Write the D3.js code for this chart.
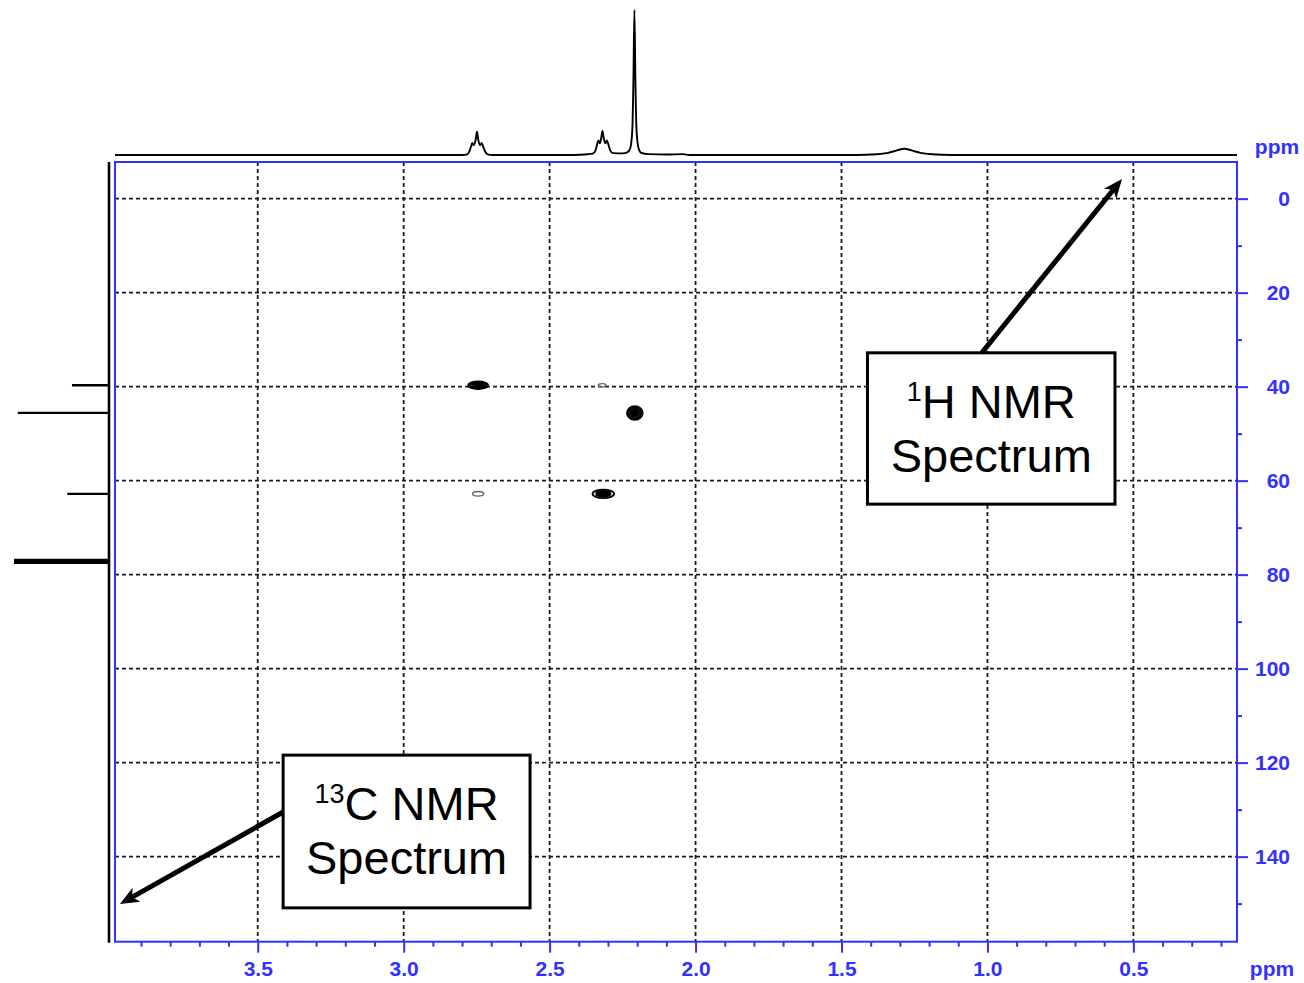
<!DOCTYPE html>
<html>
<head>
<meta charset="utf-8">
<script src="https://cdn.jsdelivr.net/npm/d3@7"></script>
<style>
  body { margin: 0; background: #fff; }
  svg { display: block; font-family: "Liberation Sans", Arial, Helvetica, sans-serif; }
</style>
</head>
<body>
<div id="chart"></div>
<script>
// 1H axis (ppm, reversed) and 13C axis (ppm)
const hDomain = [3.989, 0.145];
const cDomain = [-7.8, 158.1];
const hMajorTicks = [3.5, 3.0, 2.5, 2.0, 1.5, 1.0, 0.5];
const hMinorTicks = [3.9, 3.8, 3.7, 3.6, 3.4, 3.3, 3.2, 3.1, 2.9, 2.8, 2.7, 2.6, 2.4, 2.3, 2.2, 2.1,
                     1.9, 1.8, 1.7, 1.6, 1.4, 1.3, 1.2, 1.1, 0.9, 0.8, 0.7, 0.6, 0.4, 0.3, 0.2];
const cMajorTicks = [0, 20, 40, 60, 80, 100, 120, 140];
const cMinorTicks = [10, 30, 50, 70, 90, 110, 130, 150];

// 1H trace: [ppm, relative intensity]
const hTrace = [
  [3.989, 0], [2.800, 0], [2.785, 0.3], [2.776, 2], [2.769, 6], [2.765, 8.3], [2.760, 6.8],
  [2.753, 11], [2.749, 16], [2.745, 11], [2.738, 6.8], [2.733, 8.3], [2.728, 6], [2.720, 2],
  [2.710, 0.3], [2.695, 0], [2.420, 0], [2.370, 0.5], [2.352, 1], [2.343, 3], [2.337, 7.5],
  [2.333, 10], [2.328, 8], [2.323, 12], [2.319, 16.6], [2.315, 12], [2.309, 8], [2.304, 10],
  [2.299, 7.5], [2.292, 3], [2.283, 1.3], [2.250, 1.1], [2.234, 1.8], [2.224, 4.5], [2.217, 16],
  [2.213, 50], [2.2095, 100], [2.206, 50], [2.202, 16], [2.195, 4.5], [2.186, 1.5],
  [2.160, 0.6], [2.100, 0.3], [2.044, 0.6], [2.020, 0], [1.450, 0], [1.380, 0.5], [1.340, 1.5],
  [1.310, 3.2], [1.285, 4.3], [1.260, 3.2], [1.230, 1.5], [1.190, 0.5], [1.120, 0], [0.145, 0]
];

// 13C lines on the left projection
const cPeaks = [39.7, 45.6, 62.8, 76.85, 77.16, 77.47];
const cHeights = [39, 96, 44, 100, 100, 100];

// HSQC cross peaks
const crossH = [2.745, 2.320, 2.208, 2.745, 2.316];
const crossC = [39.7, 39.7, 45.6, 62.8, 62.8];
const crossHW = [0.034, 0.013, 0.027, 0.019, 0.037];
const crossCW = [0.8, 0.35, 1.45, 0.5, 0.9];
const crossLevels = [5, 1, 5, 1, 3];

// annotations
const noteSup = ["1", "13"];
const noteText = ["H NMR", "C NMR"];
const noteBoxH = [[1.411, 0.563], [3.413, 2.567]];
const noteBoxC = [[32.8, 65.0], [118.4, 150.9]];
const noteTail = [[1.0195, 32.8], [3.413, 130.5]];
const noteTip = [[0.539, -4.2], [3.972, 150.1]];

const width = 1304, height = 983;
const plot = { left: 115, right: 1237, top: 162, bottom: 941.7 };
const blue = "#3232ff";

const svg = d3.select("#chart").append("svg")
  .attr("width", width).attr("height", height);

const x = d3.scaleLinear().domain(hDomain).range([plot.left, plot.right]);
const y = d3.scaleLinear().domain(cDomain).range([plot.top, plot.bottom]);

// grid
const grid = svg.append("g")
  .attr("stroke", "#1a1a1a").attr("stroke-width", 1.8).attr("stroke-dasharray", "4,3");
grid.selectAll(".gv").data(hMajorTicks).enter().append("line")
  .attr("x1", d => x(d)).attr("x2", d => x(d))
  .attr("y1", plot.top).attr("y2", plot.bottom);
grid.selectAll(".gh").data(cMajorTicks).enter().append("line")
  .attr("x1", plot.left).attr("x2", plot.right)
  .attr("y1", d => y(d)).attr("y2", d => y(d));

// top 1H projection
const yTop = d3.scaleLinear().domain([0, 100]).range([155, 10]);
svg.append("path")
  .datum(hTrace)
  .attr("fill", "none").attr("stroke", "#000").attr("stroke-width", 1.9)
  .attr("d", d3.line().x(d => x(d[0])).y(d => yTop(d[1])).curve(d3.curveMonotoneX));

// left 13C projection
const xLeft = d3.scaleLinear().domain([0, 100]).range([109, 14]);
svg.append("line")
  .attr("x1", xLeft(0)).attr("x2", xLeft(0))
  .attr("y1", plot.top).attr("y2", plot.bottom + 1)
  .attr("stroke", "#000").attr("stroke-width", 2.6);
svg.selectAll(".cpk").data(cPeaks).enter().append("line")
  .attr("x1", xLeft(0))
  .attr("x2", (d, i) => xLeft(cHeights[i]))
  .attr("y1", d => y(d)).attr("y2", d => y(d))
  .attr("stroke", "#000").attr("stroke-width", 2.3);

// cross peaks as nested contour rings
crossH.forEach((h, i) => {
  const rx = Math.abs(x(h + crossHW[i]) - x(h));
  const ry = Math.abs(y(crossC[i] + crossCW[i]) - y(crossC[i]));
  const n = crossLevels[i];
  const g = svg.append("g");
  for (let k = 0; k < n; k++) {
    const f = 1 - k / n;
    g.append("ellipse")
      .attr("cx", x(h)).attr("cy", y(crossC[i]))
      .attr("rx", rx * f).attr("ry", ry * f)
      .attr("fill", n > 1 && k >= n - 2 ? "#000" : "none")
      .attr("stroke", n === 1 ? "#666" : "#000")
      .attr("stroke-width", n === 1 ? 1.4 : 1.8);
  }
});

// frame
svg.append("rect")
  .attr("x", plot.left).attr("y", plot.top)
  .attr("width", plot.right - plot.left).attr("height", plot.bottom - plot.top)
  .attr("fill", "none").attr("stroke", blue).attr("stroke-width", 2);

// axes
function styleAxis(g) {
  g.select(".domain").remove();
  g.selectAll("line").attr("stroke", blue).attr("stroke-width", 2);
  g.selectAll("text")
    .attr("fill", blue).attr("font-size", 21).attr("font-weight", "bold")
    .attr("font-family", "'Liberation Sans', Arial, sans-serif");
}
svg.append("g")
  .attr("transform", `translate(0,${plot.bottom})`)
  .call(d3.axisBottom(x).tickValues(hMajorTicks).tickSize(11).tickPadding(8)
        .tickFormat(d3.format(".1f")))
  .call(styleAxis);
svg.append("g")
  .attr("transform", `translate(0,${plot.bottom})`)
  .call(d3.axisBottom(x).tickValues(hMinorTicks).tickSize(5).tickFormat(""))
  .call(styleAxis);
svg.append("g")
  .attr("transform", `translate(${plot.right},0)`)
  .call(d3.axisRight(y).tickValues(cMajorTicks).tickSize(11).tickFormat(d3.format("d")))
  .call(styleAxis)
  .call(g => g.selectAll("text").attr("x", 53).attr("text-anchor", "end"));
svg.append("g")
  .attr("transform", `translate(${plot.right},0)`)
  .call(d3.axisRight(y).tickValues(cMinorTicks).tickSize(5).tickFormat(""))
  .call(styleAxis);

// ppm unit labels
svg.append("text").attr("x", 1277).attr("y", 154).attr("text-anchor", "middle")
  .attr("fill", blue).attr("font-size", 21).attr("font-weight", "bold").text("ppm");
svg.append("text").attr("x", 1272).attr("y", 976).attr("text-anchor", "middle")
  .attr("fill", blue).attr("font-size", 21).attr("font-weight", "bold").text("ppm");

// annotation boxes with arrows
noteText.forEach((t, i) => {
  const bx0 = x(noteBoxH[i][0]), bx1 = x(noteBoxH[i][1]);
  const by0 = y(noteBoxC[i][0]), by1 = y(noteBoxC[i][1]);
  const cx = (bx0 + bx1) / 2;

  svg.append("rect")
    .attr("x", bx0).attr("y", by0).attr("width", bx1 - bx0).attr("height", by1 - by0)
    .attr("fill", "#fff").attr("stroke", "#000").attr("stroke-width", 3);

  const line1 = svg.append("text")
    .attr("x", cx).attr("y", by0 + 65).attr("text-anchor", "middle")
    .attr("font-size", 47).attr("fill", "#000");
  line1.append("tspan").attr("font-size", 27).attr("dy", -17).text(noteSup[i]);
  line1.append("tspan").attr("dy", 17).text(t);
  svg.append("text")
    .attr("x", cx).attr("y", by0 + 119).attr("text-anchor", "middle")
    .attr("font-size", 47).attr("fill", "#000").text("Spectrum");

  // arrow
  const tx = x(noteTail[i][0]), ty = y(noteTail[i][1]);
  const hx = x(noteTip[i][0]), hy = y(noteTip[i][1]);
  const ang = Math.atan2(hy - ty, hx - tx);
  const len = Math.hypot(hx - tx, hy - ty);
  svg.append("line")
    .attr("x1", tx).attr("y1", ty)
    .attr("x2", tx + Math.cos(ang) * (len - 10)).attr("y2", ty + Math.sin(ang) * (len - 10))
    .attr("stroke", "#000").attr("stroke-width", 5);
  svg.append("path")
    .attr("transform", `translate(${hx},${hy}) rotate(${ang * 180 / Math.PI})`)
    .attr("d", "M0,0 L-19,-8 L-14,0 L-19,8 Z")
    .attr("fill", "#000");
});
</script>
</body>
</html>
